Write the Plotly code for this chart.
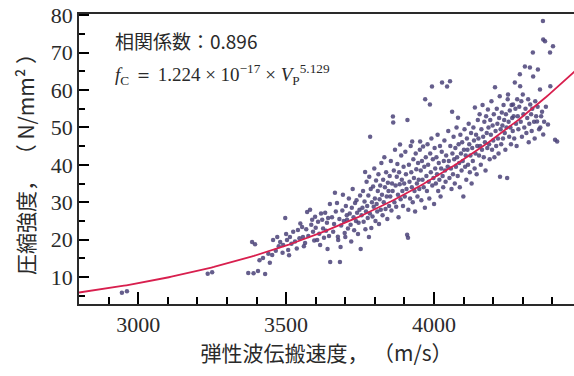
import numpy as np
import plotly.graph_objects as go

# Measured elastic-wave velocity (m/s) and compressive strength (N/mm2)
velocity = [
    2945, 2962, 3235, 3250,
    3372, 3390, 3405, 3429, 3385, 3395, 3410, 3422, 3440, 3445, 3453, 3456,
    3465, 3470, 3475, 3480, 3488, 3490, 3497, 3500, 3503, 3507, 3510, 3513, 3518, 3524, 3530, 3536, 3540, 3545, 3548,
    3554, 3557, 3560, 3564, 3568, 3571, 3575, 3581, 3585, 3588, 3591, 3595, 3598, 3600, 3605, 3608, 3612, 3615, 3618,
    3622, 3625, 3628, 3632, 3635, 3638, 3640, 3642, 3645, 3648, 3649,
    3655, 3659, 3662, 3665, 3668, 3672, 3675, 3676, 3680, 3682, 3684, 3686, 3690, 3692, 3695, 3698, 3700, 3702, 3705,
    3706, 3709, 3712, 3715, 3718, 3720, 3722, 3725, 3728, 3730, 3733, 3736, 3738, 3740, 3743, 3745, 3748, 3750, 3752, 3755,
    3758, 3760, 3762, 3765, 3767, 3768, 3770, 3772, 3774, 3776, 3778, 3780, 3781, 3783, 3784, 3786, 3788, 3790, 3792,
    3794, 3796, 3798, 3800, 3802, 3804, 3806, 3808, 3810, 3812, 3814, 3816, 3818, 3820, 3822, 3824, 3826, 3828, 3830,
    3832, 3834, 3836, 3838, 3840, 3842, 3844, 3846, 3848,
    3850, 3852, 3854, 3856, 3858, 3860, 3861, 3862, 3864, 3866, 3868, 3870, 3872, 3874, 3876, 3878, 3880, 3882, 3884,
    3885, 3887, 3889, 3891, 3893, 3895, 3897, 3899, 3901, 3903, 3905, 3907, 3909, 3910, 3912, 3913, 3915, 3917, 3919,
    3921, 3923, 3925, 3926, 3928, 3930, 3932, 3934, 3936, 3938, 3940, 3942, 3944, 3946, 3948,
    3950, 3952, 3953, 3955, 3957, 3959, 3961, 3963, 3965, 3967, 3969, 3970, 3972, 3974, 3976, 3978, 3980, 3982, 3984,
    3986, 3987, 3989, 3991, 3993, 3994, 3996, 3998, 4000, 4002, 4004, 4006, 4008, 4010, 4012, 4014, 4016, 4018, 4020,
    4022, 4024, 4026, 4027, 4029, 4031, 4033, 4035, 4037, 4039, 4041, 4044, 4046, 4048,
    4050, 4052, 4054, 4055, 4057, 4059, 4061, 4062, 4064, 4066, 4068, 4070, 4072, 4074, 4076, 4078, 4080, 4081, 4083,
    4085, 4087, 4089, 4091, 4093, 4095, 4097, 4099, 4101, 4103, 4105, 4107, 4109, 4111, 4113, 4115, 4117, 4119, 4121,
    4123, 4125, 4127, 4129, 4131, 4133, 4135, 4137, 4138, 4140, 4142, 4144, 4146, 4148,
    4150, 4152, 4154, 4156, 4158, 4160, 4162, 4164, 4166, 4168, 4170, 4172, 4174, 4176, 4178, 4180, 4182, 4184, 4186,
    4188, 4190, 4192, 4194, 4196, 4198, 4200, 4202, 4204, 4206, 4208, 4210, 4212, 4214, 4216, 4218, 4220, 4222, 4223,
    4225, 4227, 4229, 4231, 4233, 4235, 4237, 4239, 4241, 4243, 4245, 4247, 4249,
    4250, 4252, 4254, 4256, 4258, 4260, 4262, 4264, 4266, 4267, 4269, 4271, 4273, 4275, 4277, 4279, 4281, 4283, 4285,
    4288, 4290, 4291, 4293, 4295, 4297, 4300, 4302, 4305, 4307, 4309, 4312, 4315, 4318, 4320, 4322, 4324, 4325, 4328,
    4330, 4332, 4334, 4335, 4338, 4340, 4342, 4345, 4348, 4350,
    4351, 4355, 4358, 4359, 4362, 4365, 4368, 4369, 4369, 4372, 4375, 4378, 4385, 4392, 4393, 4402, 4409, 4416,
]
strength = [
    5.8, 6.2, 10.9, 11.3,
    11.1, 11.0, 11.6, 10.8, 19.4, 18.8, 14.5, 15.1, 16.2, 13.8, 15.9, 19.9,
    17.0, 20.7, 18.2, 19.4, 16.5, 18.6, 25.8, 21.5, 19.9, 17.2, 15.8, 20.7, 18.9, 22.1, 19.5, 17.6, 22.6, 20.4, 24.3,
    23.4, 20.7, 18.2, 19.1, 22.8, 27.4, 21.0, 28.0, 24.0, 25.3, 22.1, 19.8, 26.1, 23.2, 19.9, 24.8, 21.6, 18.6, 27.0,
    25.3, 23.0, 20.5, 27.2, 22.4, 24.5, 17.5, 25.8, 21.0, 29.5, 14.0,
    26.0, 22.1, 24.2, 32.5, 27.5, 29.8, 20.8, 19.9, 25.5, 14.0, 18.0, 23.8, 27.8, 32.0, 25.0, 21.8, 20.7, 29.0, 26.5,
    25.3, 23.0, 31.0, 27.0, 24.0, 19.5, 28.5, 33.5, 26.0, 22.5, 29.8, 25.0, 30.5, 27.2, 21.5, 24.5, 28.0, 31.8, 17.5, 26.5,
    28.5, 33.0, 24.8, 30.2, 38.1, 22.8, 27.5, 35.5, 29.0, 25.8, 31.8, 20.7, 36.8, 27.0, 47.5, 33.5, 23.1, 30.0, 26.2,
    34.2, 28.8, 39.0, 31.0, 25.0, 35.8, 29.5, 27.5, 33.0, 37.5, 24.2, 30.8, 34.5, 28.0, 40.5, 32.0, 26.5, 36.0, 30.0,
    42.0, 34.0, 28.2, 38.0, 31.5, 25.5, 35.2, 33.0, 29.0,
    37.0, 31.5, 41.0, 27.8, 35.0, 33.0, 52.9, 51.3, 38.5, 30.0, 44.0, 34.5, 28.8, 36.8, 40.2, 32.0, 26.0, 38.0, 34.8,
    45.4, 30.8, 42.5, 36.0, 33.0, 29.0, 39.5, 35.0, 31.5, 43.5, 37.5, 33.5, 21.3, 52.0, 20.5, 28.0, 40.0, 35.5, 31.0,
    45.0, 38.0, 34.0, 46.2, 30.0, 41.5, 36.5, 33.0, 27.5, 43.0, 38.8, 35.0, 31.5, 40.5, 36.0,
    33.5, 44.0, 46.2, 38.5, 30.5, 41.0, 36.0, 44.9, 34.0, 39.5, 28.5, 57.5, 42.0, 37.0, 33.0, 45.5, 40.0, 35.5, 31.0,
    56.1, 43.0, 38.0, 47.0, 60.9, 34.5, 41.5, 36.5, 29.5, 44.5, 39.0, 35.0, 42.0, 37.5, 48.0, 33.0, 40.5, 36.0, 45.0,
    31.5, 39.0, 43.5, 62.0, 37.0, 34.0, 41.0, 46.5, 38.5, 35.5, 42.5, 60.9, 39.5, 49.0,
    41.0, 36.5, 62.3, 45.0, 39.0, 33.5, 54.2, 43.0, 37.5, 47.5, 41.5, 35.0, 44.5, 39.5, 50.0, 42.0, 37.0, 52.6, 45.5,
    40.5, 34.0, 48.0, 43.0, 38.5, 46.0, 41.0, 31.5, 44.0, 49.5, 39.5, 42.5, 36.0, 47.0, 44.0, 40.0, 51.0, 45.5, 38.0,
    42.5, 48.5, 35.0, 44.5, 41.0, 50.0, 46.5, 39.0, 55.3, 43.0, 48.0, 37.5, 45.0, 52.0,
    47.0, 42.5, 53.5, 45.0, 40.0, 49.5, 44.0, 56.0, 47.5, 42.0, 51.5, 46.0, 38.5, 53.0, 48.5, 44.5, 54.8, 50.0, 45.5,
    41.5, 52.0, 48.0, 57.0, 44.0, 50.5, 46.5, 53.5, 42.0, 60.7, 49.0, 45.0, 55.0, 51.0, 47.0, 43.0, 52.5, 58.3, 36.8,
    49.5, 45.5, 54.0, 50.5, 47.0, 56.0, 52.0, 48.5, 44.0, 53.5, 50.0, 36.5, 57.5,
    58.8, 51.5, 47.5, 54.5, 50.0, 45.5, 56.0, 52.5, 49.0, 56.1, 53.0, 47.0, 62.0, 55.0, 51.0, 45.0, 57.5, 53.0, 49.5,
    55.5, 64.2, 61.0, 51.5, 57.0, 47.5, 58.8, 53.5, 50.0, 66.3, 55.0, 48.5, 52.5, 57.5, 46.0, 51.0, 66.0, 56.1, 53.5,
    49.0, 55.0, 70.0, 63.6, 51.5, 47.0, 57.0, 53.0, 51.6, 55.5,
    65.5, 49.5, 60.1, 50.0, 53.0, 54.2, 78.4, 73.5, 48.1, 51.5, 73.0, 55.5, 50.8, 70.0, 61.0, 71.7, 46.7, 46.2,
]

# Regression fc = a * Vp^b
coef_a = 1.224e-17
coef_b = 5.129
v_fit = np.linspace(2800, 4480, 200)
fc_fit = coef_a * v_fit ** coef_b

x_ticks = [3000, 3500, 4000]
y_ticks = [10, 20, 30, 40, 50, 60, 70, 80]

serif = "Liberation Serif"
jp = "Noto Sans CJK JP"
ink = "black"
text_ink = "#2a2a2a"

fig = go.Figure()
fig.add_trace(go.Scatter(
    x=velocity, y=strength, mode="markers",
    marker=dict(size=4.5, color="rgba(74,66,120,0.85)", line=dict(width=0)),
    showlegend=False, hoverinfo="skip",
))
fig.add_trace(go.Scatter(
    x=v_fit, y=fc_fit, mode="lines",
    line=dict(color="#d81f4e", width=1.8),
    showlegend=False, hoverinfo="skip",
))

fig.update_layout(
    width=574, height=376,
    margin=dict(l=79, r=0, t=14, b=72),
    paper_bgcolor="white", plot_bgcolor="white",
    font=dict(family=serif, color=text_ink, size=21),
)
fig.update_xaxes(
    range=[2800, 4473], tickvals=x_ticks, ticks="inside", ticklen=12, tickwidth=2,
    tickcolor=ink, showline=True, linecolor=text_ink, linewidth=1.5, mirror=True,
    showgrid=False, zeroline=False,
    minor=dict(dtick=100, ticks="inside", ticklen=7, tickcolor=ink),
    tickfont=dict(family=serif, size=22, color=text_ink),
    title=dict(text="弾性波伝搬速度， （m/s）", font=dict(family=jp, size=21, color=text_ink), standoff=8),
)
fig.update_yaxes(
    range=[2.8, 80.3], tickvals=y_ticks, ticks="inside", ticklen=10, tickwidth=2,
    tickcolor=ink, showline=True, linecolor=text_ink, linewidth=1.5, mirror=False,
    showgrid=False, zeroline=False,
    minor=dict(dtick=5, ticks="inside", ticklen=6, tickcolor=ink),
    tickfont=dict(family=serif, size=22, color=text_ink),
    title=dict(text="圧縮強度， （ N/mm² ）", font=dict(family=jp, size=21, color=text_ink), standoff=10),
)
fig.add_annotation(
    xref="paper", yref="paper", x=0.069, y=0.91, xanchor="left", yanchor="middle",
    text="相関係数：0.896", showarrow=False, font=dict(family=jp, size=19, color=text_ink),
)
fig.add_annotation(
    xref="paper", yref="paper", x=0.069, y=0.79, xanchor="left", yanchor="middle",
    text="<i>f</i><sub>C</sub> ＝ 1.224 × 10<sup>−17</sup> × <i>V</i><sub>P</sub><sup>5.129</sup>",
    showarrow=False, font=dict(family=serif, size=19, color=text_ink),
)

fig.write_html("out.html")
